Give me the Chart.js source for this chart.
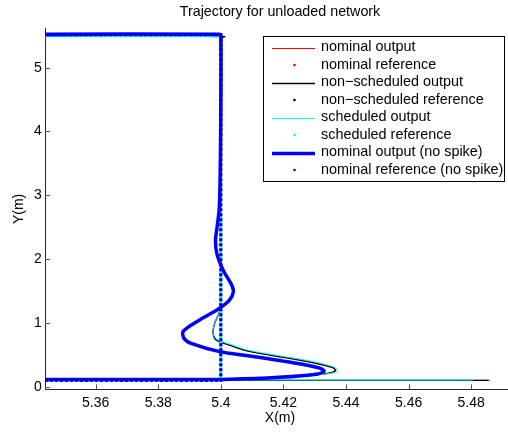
<!DOCTYPE html>
<html>
<head>
<meta charset="utf-8">
<title>Trajectory for unloaded network</title>
<script src="https://cdn.jsdelivr.net/npm/chart.js@4.4.1/dist/chart.umd.min.js"></script>
<style>
  html, body { margin: 0; padding: 0; overflow: hidden; background: #fff; }
  #wrap { width: 508px; height: 435px; overflow: hidden; }
</style>
</head>
<body>
<div id="wrap"><canvas id="trajectoryChart" width="560" height="435"></canvas></div>
<script>
const FONT = "'Liberation Sans', Arial, Helvetica, sans-serif";
const TITLE = "Trajectory for unloaded network";

const xTicks = [5.36, 5.38, 5.4, 5.42, 5.44, 5.46, 5.48];
const yTicks = [0, 1, 2, 3, 4, 5];

const seriesLabels = [
  "nominal output",
  "nominal reference",
  "non\u2212scheduled output",
  "non\u2212scheduled reference",
  "scheduled output",
  "scheduled reference",
  "nominal output (no spike)",
  "nominal reference (no spike)"
];

// reference path (same for all four runs)
const refX = [5.3438, 5.4, 5.4, 5.3438];
const refY = [0.1, 0.1, 5.515, 5.515];

// outputs; null breaks the line
const nominalX = [5.3438, 5.4, 5.4, 5.4, 5.3997, 5.398, 5.3975, 5.3986, 5.4028, 5.408, 5.4156, 5.428, 5.4358, 5.4364, 5.4336, 5.425, 5.412, 5.402, 5.39, 5.3438, null, 5.40, 5.486];
const nominalY = [5.497, 5.497, 5.45, 1.6, 1.2, 0.99, 0.84, 0.73, 0.653, 0.57, 0.50, 0.40, 0.30, 0.245, 0.205, 0.165, 0.125, 0.105, 0.10, 0.10, null, 0.10, 0.10];

const nonSchedX = [5.3438, 5.4012, 5.4, 5.4, 5.3997, 5.398, 5.3975, 5.3986, 5.4028, 5.408, 5.4156, 5.428, 5.436, 5.4366, 5.4336, 5.425, 5.412, 5.402, 5.39, 5.3438, null, 5.40, 5.4855];
const nonSchedY = [5.492, 5.488, 5.45, 1.6, 1.2, 0.99, 0.84, 0.73, 0.653, 0.565, 0.495, 0.39, 0.295, 0.245, 0.205, 0.165, 0.125, 0.105, 0.10, 0.10, null, 0.10, 0.10];

const schedX = [5.3438, 5.4, 5.4, 5.4, 5.3997, 5.398, 5.3975, 5.3988, 5.4032, 5.4085, 5.4162, 5.4288, 5.4366, 5.4372, 5.4338, 5.425, 5.412, 5.402, 5.39, 5.3438, null, 5.40, 5.4806];
const schedY = [5.485, 5.485, 5.45, 1.6, 1.2, 0.99, 0.84, 0.74, 0.66, 0.575, 0.505, 0.40, 0.30, 0.24, 0.20, 0.163, 0.125, 0.105, 0.105, 0.105, null, 0.105, 0.105];

const noSpikeX = [5.3438, 5.3995, 5.4, 5.4, 5.3998, 5.3995, 5.3988, 5.3983, 5.3987, 5.4007, 5.4034, 5.404, 5.4028, 5.3996, 5.3932, 5.388, 5.3882, 5.3905, 5.3996, 5.4081, 5.4241, 5.4316, 5.433, 5.431, 5.4187, 5.4028, 5.38, 5.3438];
const noSpikeY = [5.525, 5.525, 5.5, 4.5, 3.4, 2.8, 2.5, 2.3, 2.09, 1.83, 1.6, 1.49, 1.36, 1.23, 1.045, 0.87, 0.76, 0.68, 0.55, 0.49, 0.367, 0.29, 0.245, 0.2, 0.147, 0.118, 0.113, 0.113];

function toPoints(xs, ys) {
  return xs.map((x, i) => (x === null ? { x: null, y: null } : { x: x, y: ys[i] }));
}

function outputSet(label, xs, ys, color, width, order) {
  return {
    label: label,
    data: toPoints(xs, ys),
    showLine: true,
    borderColor: color,
    backgroundColor: color,
    borderWidth: width,
    pointRadius: 0,
    tension: 0.3,
    fill: false,
    order: order
  };
}

function referenceSet(label, color, width, offset, order) {
  return {
    label: label,
    data: toPoints(refX, refY),
    showLine: true,
    borderColor: color,
    backgroundColor: color,
    borderWidth: width,
    borderDash: [3, 2],
    borderDashOffset: offset,
    pointRadius: 0,
    tension: 0,
    fill: false,
    order: order
  };
}

// title centred over the (partly cropped) axes, like the original figure
const axesTitle = {
  id: "axesTitle",
  afterDraw(chart) {
    const { ctx, chartArea } = chart;
    ctx.save();
    ctx.font = "14.3px " + FONT;
    ctx.fillStyle = "#000";
    ctx.textAlign = "center";
    ctx.textBaseline = "middle";
    ctx.fillText(TITLE, (chartArea.left + chartArea.right) / 2, 12.5);
    ctx.restore();
  }
};

// MATLAB style ticks pointing into the plot
const insideTicks = {
  id: "insideTicks",
  afterDatasetsDraw(chart) {
    const { ctx, chartArea, scales } = chart;
    ctx.save();
    ctx.strokeStyle = "#555";
    ctx.lineWidth = 1;
    ctx.beginPath();
    xTicks.forEach(v => {
      const px = Math.round(scales.x.getPixelForValue(v)) + 0.5;
      ctx.moveTo(px, chartArea.bottom);
      ctx.lineTo(px, chartArea.bottom - 5);
    });
    yTicks.forEach(v => {
      const py = Math.round(scales.y.getPixelForValue(v)) + 0.5;
      ctx.moveTo(chartArea.left, py);
      ctx.lineTo(chartArea.left + 5, py);
    });
    ctx.stroke();
    ctx.restore();
  }
};

// boxed legend inside the axes
const boxLegend = {
  id: "boxLegend",
  afterDraw(chart) {
    const ctx = chart.ctx;
    const left = 263.5, top = 36.5, w = 241, h = 145;
    ctx.save();
    ctx.fillStyle = "#fff";
    ctx.fillRect(left, top, w, h);
    ctx.strokeStyle = "#000";
    ctx.lineWidth = 1;
    ctx.strokeRect(left, top, w, h);
    ctx.font = "14.4px " + FONT;
    ctx.textBaseline = "middle";
    chart.data.datasets.forEach((ds, i) => {
      const yy = 47.5 + i * 17.5;
      if (ds.borderDash) {
        ctx.fillStyle = ds.borderColor;
        ctx.beginPath();
        ctx.arc(294.5, yy, 1.3, 0, Math.PI * 2);
        ctx.fill();
      } else {
        ctx.strokeStyle = ds.borderColor;
        ctx.lineWidth = ds.borderWidth;
        ctx.beginPath();
        const ly = ds.borderWidth % 2 ? Math.round(yy) + 0.5 : Math.round(yy);
        ctx.moveTo(272, ly);
        ctx.lineTo(315, ly);
        ctx.stroke();
      }
      ctx.fillStyle = "#000";
      ctx.fillText(ds.label, 321, yy);
    });
    ctx.restore();
  }
};

new Chart(document.getElementById("trajectoryChart"), {
  type: "scatter",
  data: {
    datasets: [
      outputSet(seriesLabels[0], nominalX, nominalY, "#ff0000", 1, 8),
      referenceSet(seriesLabels[1], "#ff0000", 2.5, 0, 7),
      outputSet(seriesLabels[2], nonSchedX, nonSchedY, "#000000", 1.3, 6),
      referenceSet(seriesLabels[3], "#000000", 2.5, 0, 5),
      outputSet(seriesLabels[4], schedX, schedY, "#00ffff", 1, 4),
      referenceSet(seriesLabels[5], "#00ffff", 2.5, 2.5, 3),
      outputSet(seriesLabels[6], noSpikeX, noSpikeY, "#0000ff", 3.5, 2),
      referenceSet(seriesLabels[7], "#0000dd", 3, 0, 1)
    ]
  },
  options: {
    responsive: false,
    animation: false,
    devicePixelRatio: 1,
    events: [],
    layout: { padding: { left: 0, right: 45, top: 28.5, bottom: 0 } },
    scales: {
      x: {
        type: "linear",
        min: 5.3438,
        max: 5.494,
        afterFit: scale => { scale.height = 45.7; },
        afterBuildTicks: scale => { scale.ticks = xTicks.map(v => ({ value: v })); },
        grid: { display: false, drawTicks: false },
        border: { display: true, color: "#262626", width: 1 },
        ticks: {
          padding: 5,
          color: "#000",
          font: { family: FONT, size: 14 },
          maxRotation: 0,
          autoSkip: false,
          callback: v => String(v)
        },
        title: {
          display: true,
          text: "X(m)",
          color: "#000",
          font: { family: FONT, size: 14 },
          padding: { top: 0, bottom: 8 }
        }
      },
      y: {
        type: "linear",
        min: -0.041,
        max: 5.614,
        afterFit: scale => { scale.width = 45; },
        afterBuildTicks: scale => { scale.ticks = yTicks.map(v => ({ value: v })); },
        grid: { display: false, drawTicks: false },
        border: { display: true, color: "#262626", width: 1 },
        ticks: {
          padding: 3.3,
          color: "#000",
          font: { family: FONT, size: 14 },
          autoSkip: false,
          callback: v => String(v)
        },
        title: {
          display: true,
          text: "Y(m)",
          color: "#000",
          font: { family: FONT, size: 14 },
          padding: { top: 10.6, bottom: 0 }
        }
      }
    },
    plugins: {
      legend: { display: false },
      tooltip: { enabled: false },
      title: { display: false }
    }
  },
  plugins: [insideTicks, axesTitle, boxLegend]
});
</script>
</body>
</html>
